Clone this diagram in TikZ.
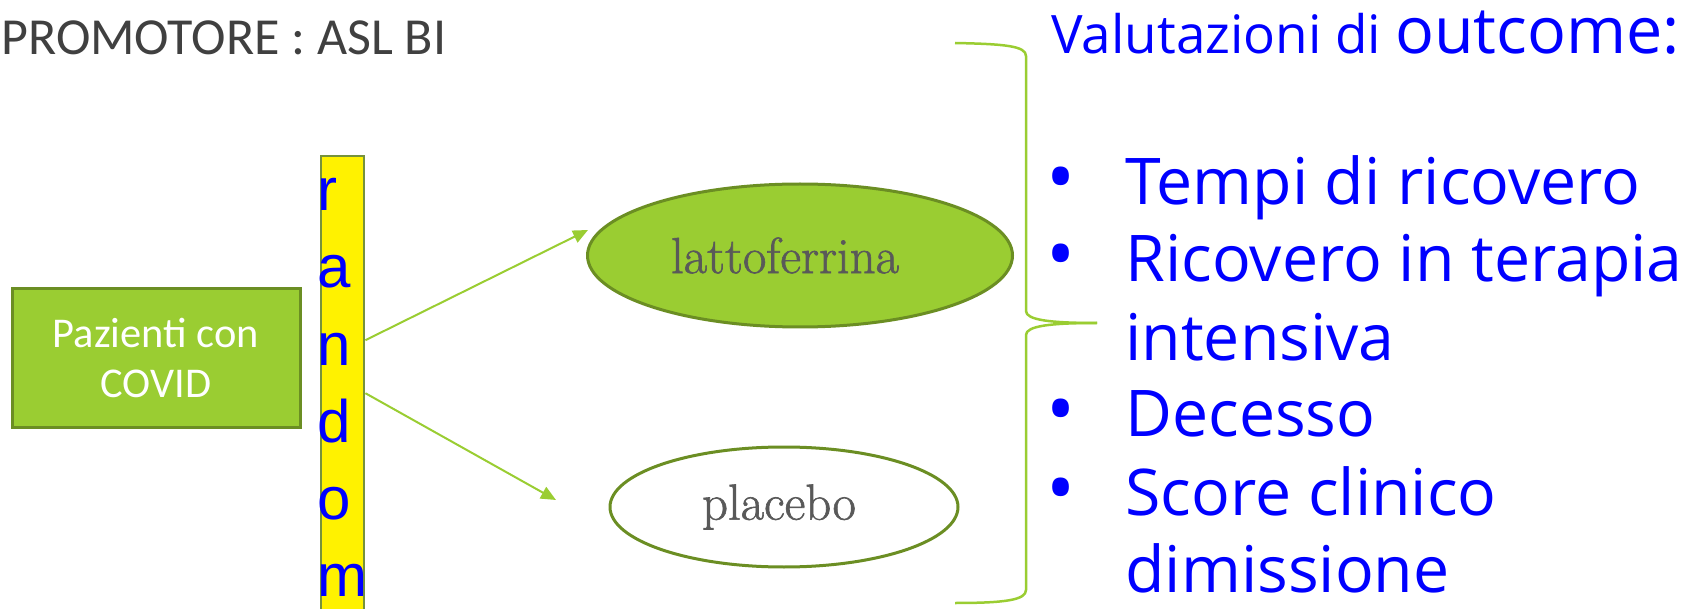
\documentclass[tikz,border=0pt]{standalone}
\usepackage{fontspec}
\newfontfamily\calib{Carlito}
\newfontfamily\arialf{Liberation Sans}
\newfontfamily\outfont{Open Sans}
\newfontfamily\armfont[FakeBold=1.2]{Latin Modern Roman}
\usetikzlibrary{arrows.meta,shapes.geometric}

\definecolor{armgreen}{RGB}{154,205,50}
\definecolor{olivebd}{RGB}{107,142,35}
\definecolor{barbd}{RGB}{118,146,60}
\definecolor{ellgray}{RGB}{89,89,89}
\definecolor{promogray}{RGB}{64,64,64}

\begin{document}
\begin{tikzpicture}[
  x=0.5pt, y=-0.5pt,
  patbox/.style={
    rectangle, draw=olivebd, fill=armgreen, line width=1.5pt,
    minimum width=144pt, minimum height=69pt,
    text=white, align=center,
    font=\calib\fontsize{21.2}{25}\selectfont
  },
  randbar/.style={
    rectangle, draw=barbd, fill=yellow, line width=1.2pt,
    minimum width=21.5pt, minimum height=235pt, inner sep=0
  },
  randletter/.style={inner sep=0, anchor=base west, text=blue, font=\arialf\fontsize{30}{30}\selectfont},
  arm/.style={ellipse, draw=olivebd, line width=1.5pt, inner sep=0},
  armlabel/.style={inner sep=0, text=ellgray, font=\armfont\fontsize{25.4}{26}\selectfont},
  arrowline/.style={-{Triangle[length=7.5pt,width=6.5pt]}, color=armgreen, line width=1pt},
  bracepath/.style={draw=armgreen, line width=1.25pt},
  outline/.style={inner sep=0, anchor=base west, text=blue, font=\outfont\fontsize{32.2}{38}\selectfont},
  bulletmark/.style={inner sep=0, anchor=base, text=blue, font=\outfont\fontsize{32.2}{38}\selectfont}
  ]

  \clip (0,0) rectangle (1698,609);

  \node [inner sep=0, anchor=base west, text=promogray, font=\calib\fontsize{26}{30}\selectfont] (promo) at (1,55) {PROMOTORE : ASL BI};

  \node [patbox] (paz) at (156,358) {Pazienti con\\COVID};

  \node [randbar, anchor=north west] (rnd) at (320,155) {};
  \foreach \ch [count=\i from 0] in {r,a,n,d,o,m}
    \node [randletter] (let\i) at (317,211+77*\i) {\ch};

  \node [arm, fill=armgreen, minimum width=212.5pt, minimum height=71.5pt] (latto) at (800,255.5) {};
  \node [armlabel] (lattotxt) at ([xshift=-7.5pt]latto.center) {lattoferrina};
  \node [arm, fill=white, minimum width=174pt, minimum height=60pt] (plac) at (784,507) {};
  \node [armlabel] (plactxt) at ([xshift=-2.5pt]plac.center) {placebo};

  \coordinate (tipA) at (588,230);
  \coordinate (tipB) at (556,500);
  \draw [arrowline] ([yshift=25.5pt]rnd.east) -- (tipA);
  \draw [arrowline] ([yshift=-1pt]rnd.east) -- (tipB);

  % brace round both arms
  \coordinate (brtip) at (1097,323);
  \draw [bracepath] (955,43) .. controls (1005,44) and (1026,46) .. (1026,56) -- (1026,311)
    .. controls (1026,320) and (1050,323) .. (brtip);
  \draw [bracepath] (brtip) .. controls (1050,323) and (1026,326) .. (1026,335) -- (1026,590)
    .. controls (1026,600) and (1005,603) .. (955,603);

  \node [inner sep=0, anchor=base west, text=blue] (title) at (1051,54)
    {{\outfont\fontsize{26.5}{30}\selectfont Valutazioni di }{\outfont\fontsize{32.3}{36}\selectfont outcome:}};

  \node [bulletmark] (b1) at (1061,205) {\scalebox{1.2}{\textbullet}};
  \node [bulletmark] (b2) at (1061,282) {\scalebox{1.2}{\textbullet}};
  \node [bulletmark] (b3) at (1061,437) {\scalebox{1.2}{\textbullet}};
  \node [bulletmark] (b4) at (1061,515) {\scalebox{1.2}{\textbullet}};

  \node [outline] (o1) at (1125,205) {Tempi di ricovero};
  \node [outline] (o2) at (1125,282) {Ricovero in terapia};
  \node [outline] (o3) at (1125,360) {intensiva};
  \node [outline] (o4) at (1125,437) {Decesso};
  \node [outline] (o5) at (1125,515) {Score clinico};
  \node [outline] (o6) at (1125,592) {dimissione};

\end{tikzpicture}
\end{document}
